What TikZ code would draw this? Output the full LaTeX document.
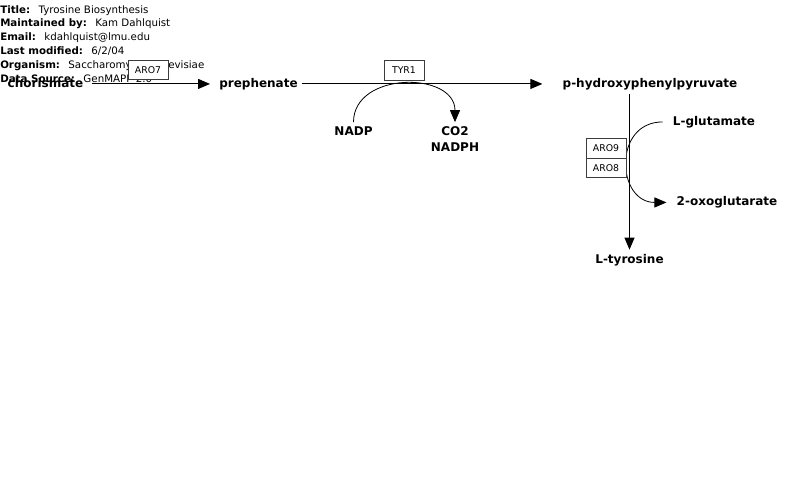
\documentclass[tikz,border=0pt]{standalone}
\usepackage{fontspec}
\setmainfont{DejaVu Sans}
\usetikzlibrary{arrows.meta,positioning}
\definecolor{boxC}{RGB}{60,60,60}
\tikzset{
  mol/.style={font=\fontsize{9}{11}\selectfont\bfseries, inner sep=3pt, anchor=base,
              text height=6.8pt, text depth=2.2pt},
  gene/.style={rectangle, draw=boxC, line width=0.75pt, fill=white, font=\fontsize{7}{8}\selectfont,
               minimum width=30pt, minimum height=14.5pt, inner sep=1pt},
  info/.style={font=\fontsize{7.7}{9}\selectfont, anchor=west, inner sep=0pt},
  arr/.style={-{Triangle[length=9pt,width=7.5pt]}, line width=0.75pt},
  side/.style={-{Triangle[length=9pt,width=7.5pt]}, line width=0.6pt},
}

\begin{document}
\begin{tikzpicture}[x=0.75pt, y=-0.75pt]
  \useasboundingbox (0,0) rectangle (800,497);
  \node[info] (title) at (0,11) {\textbf{Title:}\enspace\ Tyrosine Biosynthesis};
  \node[info] (maint) at (0,24) {\textbf{Maintained by:}\enspace\ Kam Dahlquist};
  \node[info] (email) at (0,38) {\textbf{Email:}\enspace\ kdahlquist@lmu.edu};
  \node[info] (modif) at (0,51.5) {\textbf{Last modified:}\enspace\ 6/2/04};
  \node[info] (org) at (0,65.5) {\textbf{Organism:}\enspace\ Saccharomyces cerevisiae};
  \node[info] (src) at (0,78.5) {\textbf{Data Source:}\enspace\ GenMAPP 2.0};

  \node[mol] (chor) at (45.5,87) {chorismate};
  \node[mol] (preph) at (258.5,87) {prephenate};
  \node[mol] (hpp) at (650,87) {p-hydroxyphenylpyruvate};
  \node[mol] (nadp) at (353.5,135.5) {NADP};
  \node[mol] (co2) at (455,135.5) {CO2};
  \node[mol] (nadph) at (455,151) {NADPH};
  \node[mol] (lglu) at (714,125) {L-glutamate};
  \node[mol] (oxo) at (727,205.5) {2-oxoglutarate};
  \node[mol] (ltyr) at (629.5,263) {L-tyrosine};

  \draw[arr, shorten <=3pt, shorten >=3.75pt] (chor.east) -- (preph.west);
  \draw[arr, shorten >=12pt] (preph.east) -- (hpp.west);
  \draw[arr] (hpp.south -| ltyr.north) -- (ltyr.north);
  \draw[side] (nadp.north) .. controls +(0,-51) and +(0,-51) .. (co2.north);
  \draw[side, shorten <=4.5pt, shorten >=4.5pt] (lglu.west) .. controls +(-56,0) and +(-56,0) .. (oxo.west);

  \node[gene] (aro7) at (148,70) {ARO7};
  \node[gene] (tyr1) at (404,70.5) {TYR1};
  \node[gene] (aro9) at (606,148.5) {ARO9};
  \node[gene, below=-0.75pt of aro9] (aro8) {ARO8};
\end{tikzpicture}
\end{document}
